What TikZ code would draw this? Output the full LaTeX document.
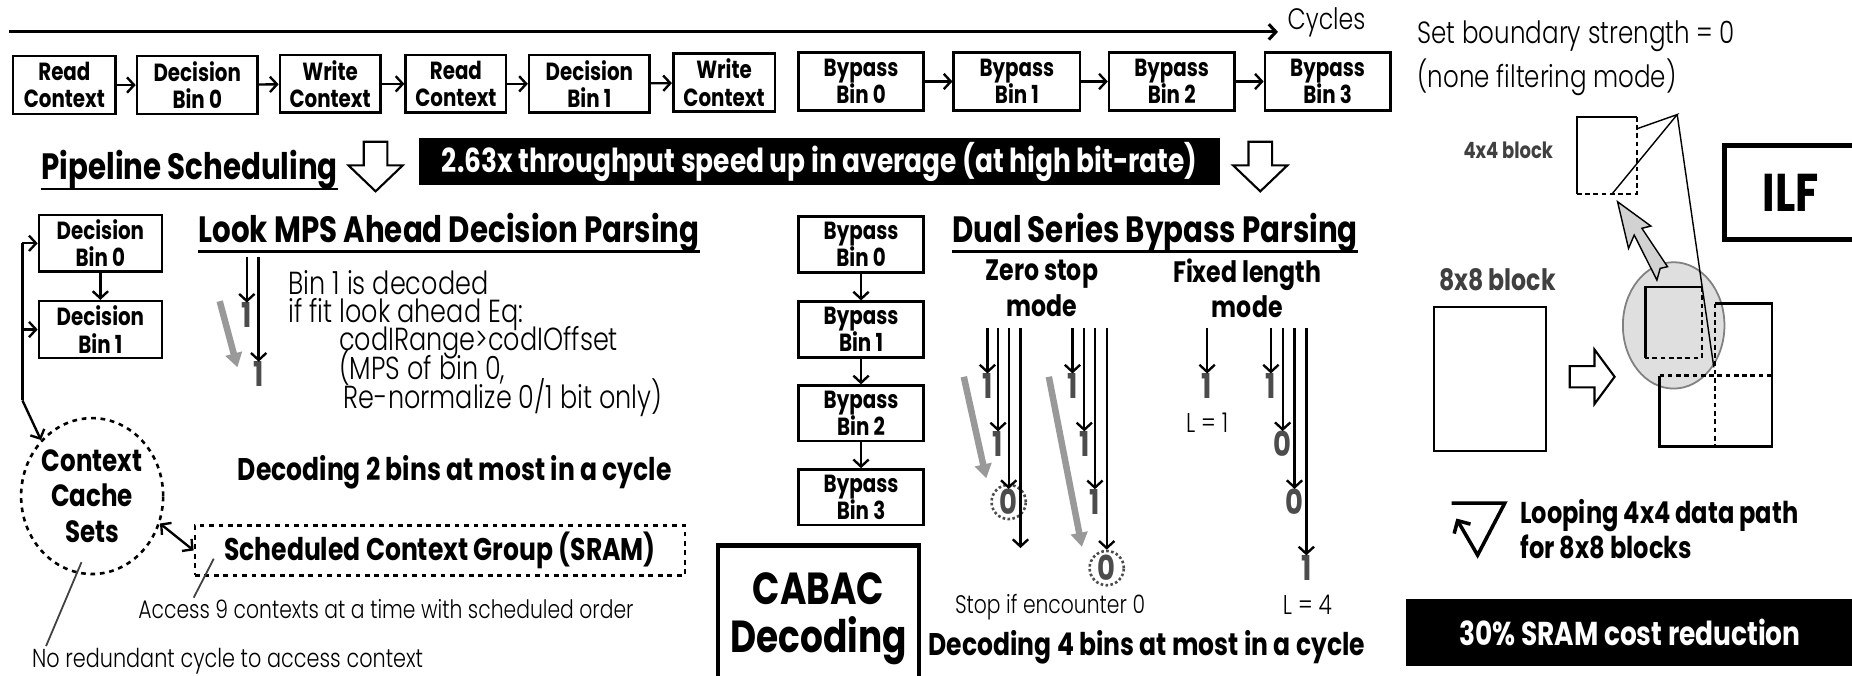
\documentclass[tikz,border=0pt]{standalone}
\usepackage{fontspec}
\setmainfont{Poppins}[FakeStretch=0.8]
\newfontfamily\thinfont{Poppins Light}[FakeStretch=0.8]
\usetikzlibrary{arrows.meta,positioning,calc,shapes.geometric}

\definecolor{digitgray}{gray}{0.30}
\definecolor{labelgray}{gray}{0.25}

\tikzset{
  stage/.style={draw, line width=2.2pt, align=center, inner sep=0pt,
    minimum height=49pt, font=\bfseries\fontsize{21}{23}\selectfont},
  flow/.style={line width=2pt, -{Straight Barb[length=6pt,width=13pt]}},
  heading/.style={inner sep=0pt, font=\bfseries\fontsize{31}{32}\selectfont},
  underbar/.style={line width=2.4pt},
  plain/.style={inner sep=0pt, font=\thinfont\fontsize{24}{24}\selectfont},
  strong/.style={inner sep=0pt, align=center, font=\bfseries\fontsize{26.5}{30}\selectfont},
  digit/.style={inner sep=0pt, text=digitgray, font=\bfseries\fontsize{29}{29}\selectfont},
  ring/.style={circle, draw=digitgray, dotted, line width=2.2pt, minimum size=29pt},
  greyarrow/.style={gray!80, line width=5.5pt, -{Triangle[length=12pt,width=14pt]}},
  leader/.style={labelgray, line width=1.5pt},
  banner/.style={fill=black, text=white, inner sep=0pt, font=\bfseries\fontsize{28}{30}\selectfont},
  hollow/.style={draw, line width=1.8pt, fill=white},
}

\begin{document}
\begin{tikzpicture}[x=1pt,y=-1pt]

  % Picture frame
  \useasboundingbox (0,0) rectangle (1568,572);

  % Cycle axis
  \coordinate (tstart) at (8,27);
  \coordinate (tend) at (1082,27);
  \draw[flow, line width=2.6pt] (tstart) -- (tend);
  \node[plain, anchor=west, font=\thinfont\fontsize{25}{25}\selectfont] (cycles) at (1090,19) {Cycles};

  % Original schedule, one stage per cycle
  \node[stage, minimum width=87pt]  (rc1) at (54.5,72) {Read\\Context};
  \node[stage, minimum width=102pt] (db0) at (167,72) {Decision\\Bin 0};
  \node[stage, minimum width=85pt]  (wc1) at (279.5,71) {Write\\Context};
  \node[stage, minimum width=85pt]  (rc2) at (386,71) {Read\\Context};
  \node[stage, minimum width=102pt] (db1) at (499,71) {Decision\\Bin 1};
  \node[stage, minimum width=86pt]  (wc2) at (613,70) {Write\\Context};
  \node[stage, minimum width=106pt] (bb0) at (729,69) {Bypass\\Bin 0};
  \node[stage, minimum width=107pt] (bb1) at (861,69) {Bypass\\Bin 1};
  \node[stage, minimum width=106pt] (bb2) at (992,69) {Bypass\\Bin 2};
  \node[stage, minimum width=106pt] (bb3) at (1124,69) {Bypass\\Bin 3};
  \draw[flow] (rc1) -- (db0);
  \draw[flow] (db0) -- (wc1);
  \draw[flow] (wc1) -- (rc2);
  \draw[flow] (rc2) -- (db1);
  \draw[flow] (db1) -- (wc2);
  \draw[flow] (bb0) -- (bb1);
  \draw[flow] (bb1) -- (bb2);
  \draw[flow] (bb2) -- (bb3);

  % Pipeline scheduling row
  \node[heading, anchor=base west] (pipe) at (35,152) {Pipeline Scheduling};
  \draw[underbar] ([yshift=-8pt]pipe.base west) -- ([yshift=-8pt]pipe.base east);
  \draw[hollow] (308,120) -- (328,120) -- (328,140) -- (341,140) -- (318,162)
    -- (295,140) -- (308,140) -- cycle;
  \node[banner, minimum width=678pt, minimum height=40pt] (speed) at (694,137)
    {2.63x throughput speed up in average (at high bit-rate)};
  \draw[hollow] (1057,120) -- (1077,120) -- (1077,140) -- (1090,140) -- (1067,162)
    -- (1044,140) -- (1057,140) -- cycle;

  % Look MPS ahead decision parsing
  \node[stage, minimum width=104pt, minimum height=48pt] (dec0) at (85,206) {Decision\\Bin 0};
  \node[stage, minimum width=104pt, minimum height=48pt] (dec1) at (85,279) {Decision\\Bin 1};
  \draw[flow] (dec0) -- (dec1);
  \node[draw, ellipse, dash pattern=on 4pt off 4pt, line width=2.2pt, minimum width=114pt,
    minimum height=132pt, strong, font=\bfseries\fontsize{26}{30}\selectfont]
    (cache) at (78,420) {Context\\Cache\\Sets};
  \coordinate (bustop) at (19,206);
  \coordinate (busbot) at (19,339);
  \draw[flow] (bustop) -- (dec0.west);
  \draw[flow] (bustop |- dec1.west) -- (dec1.west);
  \draw[line width=2pt] (bustop) -- (busbot);
  \draw[flow] (busbot) -- (cache.north west);
  \node[draw, dash pattern=on 4pt off 4pt, line width=2.2pt, minimum width=415pt,
    minimum height=42pt, strong, font=\bfseries\fontsize{26.5}{28}\selectfont]
    (sram) at (372.5,466) {Scheduled Context Group (SRAM)};
  \draw[line width=2pt, {Straight Barb[length=6pt,width=13pt]}-{Straight Barb[length=6pt,width=13pt]}]
    (cache.-22) -- (sram.west);
  \node[plain, anchor=base west, font=\thinfont\fontsize{21.5}{22}\selectfont] (access) at (117,524)
    {Access 9 contexts at a time with scheduled order};
  \coordinate (sramtip) at (181,473);
  \draw[leader] (sramtip) -- (164,506);
  \node[plain, anchor=base west, font=\thinfont\fontsize{22}{22}\selectfont] (noredund) at (27,565)
    {No redundant cycle to access context};
  \coordinate (cachetip) at (69,476);
  \draw[leader] (cachetip) -- (39,547);

  \node[heading, anchor=base west] (mps) at (168,205) {Look MPS Ahead Decision Parsing};
  \draw[underbar] ([yshift=-8pt]mps.base west) -- ([yshift=-8pt]mps.base east);
  \node[digit] (mone) at (209,267) {1};
  \node[digit] (mtwo) at (219,317) {1};
  \coordinate (mtop) at (214,218);
  \draw[flow] (mtop -| mone) -- (mone.north);
  \draw[flow] (mtop -| mtwo) -- (mtwo.north);
  \coordinate (mgreya) at (186,255);
  \coordinate (mgreyb) at (201,311);
  \draw[greyarrow] (mgreya) -- (mgreyb);
  \node[plain, anchor=base west, font=\thinfont\fontsize{27}{24}\selectfont] (lk1) at (244,249) {Bin 1 is decoded};
  \node[plain, anchor=base west, font=\thinfont\fontsize{27}{24}\selectfont] (lk2) at (244,273) {if fit look ahead Eq:};
  \node[plain, anchor=base west, font=\thinfont\fontsize{27}{24}\selectfont] (lk3) at (287,297) {codIRange>codIOffset};
  \node[plain, anchor=base west, font=\thinfont\fontsize{27}{24}\selectfont] (lk4) at (287,321) {(MPS of bin 0,};
  \node[plain, anchor=base west, font=\thinfont\fontsize{27}{24}\selectfont] (lk5) at (291,346) {Re-normalize 0/1 bit only)};
  \node[strong] (two) at (385,400) {Decoding 2 bins at most in a cycle};

  % Dual series bypass parsing
  \node[stage, minimum width=106pt, minimum height=47pt] (byp0) at (729,207) {Bypass\\Bin 0};
  \node[stage, minimum width=106pt, minimum height=47pt] (byp1) at (729,279) {Bypass\\Bin 1};
  \node[stage, minimum width=106pt, minimum height=47pt] (byp2) at (729,350) {Bypass\\Bin 2};
  \node[stage, minimum width=106pt, minimum height=47pt] (byp3) at (729,421) {Bypass\\Bin 3};
  \draw[flow] (byp0) -- (byp1);
  \draw[flow] (byp1) -- (byp2);
  \draw[flow] (byp2) -- (byp3);
  \node[draw, line width=4pt, minimum width=170pt, minimum height=124pt, align=center,
    font=\bfseries\fontsize{38}{41}\selectfont] (cabac) at (693,524) {CABAC\\Decoding};

  \node[heading, anchor=base west] (dual) at (806,205) {Dual Series Bypass Parsing};
  \draw[underbar] ([yshift=-8pt]dual.base west) -- ([yshift=-8pt]dual.base east);
  \node[strong, font=\bfseries\fontsize{25}{30}\selectfont] (zero) at (882,244) {Zero stop\\mode};
  \node[strong, font=\bfseries\fontsize{25}{30}\selectfont] (fixed) at (1056,244) {Fixed length\\mode};

  % zero stop, first series
  \coordinate (ztop) at (836,278);
  \node[digit] (za1) at (836,327) {1};
  \node[digit] (za2) at (845,376) {1};
  \node[digit] (za3) at (854,425) {0};
  \node[ring] (zaring) at (za3) {};
  \coordinate (za4) at (864,464);
  \draw[flow] (ztop -| za1) -- (za1.north);
  \draw[flow] (ztop -| za2) -- (za2.north);
  \draw[flow] (ztop -| za3) -- (za3.north);
  \draw[flow] (ztop -| za4) -- (za4);
  \coordinate (zgreya) at (816,319);
  \coordinate (zgreyb) at (835,405);
  \draw[greyarrow] (zgreya) -- (zgreyb);

  % zero stop, second series
  \node[digit] (zb1) at (908,327) {1};
  \node[digit] (zb2) at (918,376) {1};
  \node[digit] (zb3) at (927,425) {1};
  \node[digit] (zb4) at (937,481) {0};
  \node[ring] (zbring) at (zb4) {};
  \draw[flow] (ztop -| zb1) -- (zb1.north);
  \draw[flow] (ztop -| zb2) -- (zb2.north);
  \draw[flow] (ztop -| zb3) -- (zb3.north);
  \draw[flow] (ztop -| zb4) -- (zbring.north);
  \coordinate (zgreyc) at (888,319);
  \coordinate (zgreyd) at (916,463);
  \draw[greyarrow] (zgreyc) -- (zgreyd);
  \node[plain, font=\thinfont\fontsize{21.5}{22}\selectfont] (stop) at (889,514) {Stop if encounter 0};

  % fixed length, L = 1 and L = 4
  \node[digit] (fa1) at (1022,327) {1};
  \draw[flow] (ztop -| fa1) -- (fa1.north);
  \node[plain, font=\thinfont\fontsize{23}{23}\selectfont] (lone) at (1022,358) {L = 1};
  \node[digit] (fb1) at (1076,327) {1};
  \node[digit] (fb2) at (1086,376) {0};
  \node[digit] (fb3) at (1096,425) {0};
  \node[digit] (fb4) at (1106,481) {1};
  \draw[flow] (ztop -| fb1) -- (fb1.north);
  \draw[flow] (ztop -| fb2) -- (fb2.north);
  \draw[flow] (ztop -| fb3) -- (fb3.north);
  \draw[flow] (ztop -| fb4) -- (fb4.north);
  \node[plain, font=\thinfont\fontsize{23}{23}\selectfont] (lfour) at (1107,512) {L = 4};
  \node[strong] (four) at (971,548) {Decoding 4 bins at most in a cycle};

  % Inloop filter part
  \node[plain, anchor=base west, font=\thinfont\fontsize{26}{26}\selectfont] (bs1) at (1200,37)
    {Set boundary strength = 0};
  \node[plain, anchor=base west, font=\thinfont\fontsize{26}{26}\selectfont] (bs2) at (1200,74)
    {(none filtering mode)};
  \node[inner sep=0pt, text=labelgray, font=\bfseries\fontsize{19}{20}\selectfont] (small) at (1277,127) {4x4 block};
  \draw[line width=2pt] (1335,164) -- (1335,99) -- (1386,99);
  \draw[line width=2pt, dash pattern=on 4pt off 3pt] (1386,99) -- (1386,164) -- (1335,164);
  \node[draw, line width=4pt, minimum width=112pt, minimum height=80pt,
    font=\bfseries\fontsize{45}{45}\selectfont] (ilf) at (1516,163) {ILF};

  \node[inner sep=0pt, text=labelgray, font=\bfseries\fontsize{25}{26}\selectfont] (big) at (1268,237) {8x8 block};
  \node[draw, line width=2pt, minimum width=95pt, minimum height=122pt] (eight) at (1261.5,321) {};
  \draw[hollow] (1329,310) -- (1350,310) -- (1350,296) -- (1367,319) -- (1350,342)
    -- (1350,328) -- (1329,328) -- cycle;

  % split 8x8 block, top left 4x4 lifted out
  \node[ellipse, draw=gray, fill=gray!25, line width=1.5pt, minimum width=86pt,
    minimum height=107pt] (zoomed) at (1417,275.5) {};
  \draw[line width=2pt] (1405,318) -- (1405,378) -- (1500,378) -- (1500,257) -- (1452,257);
  \draw[line width=2pt, dash pattern=on 4pt off 3pt] (1452,257) -- (1452,378);
  \draw[line width=2pt, dash pattern=on 4pt off 3pt] (1405,318) -- (1500,318);
  \draw[line width=2pt] (1393,303) -- (1393,243) -- (1441,243);
  \draw[line width=2pt, dash pattern=on 4pt off 3pt] (1441,243) -- (1441,303) -- (1393,303);

  % boundary fan
  \coordinate (apex) at (1420,97);
  \draw[line width=1.2pt] (1386,109) -- (apex) -- (1365,164);
  \draw[line width=1.2pt] (apex) -- (1451,311);

  % lift arrow
  \draw[line width=1.2pt, fill=gray!35, line join=miter] (1369.5,170.8) -- (1397.7,191.4) -- (1390.1,193.3)
    -- (1411.8,225.8) -- (1405.6,227.2) -- (1402.8,237.1) -- (1383.6,199) -- (1378.8,210.3) -- cycle;

  % looping data path
  \coordinate (la) at (1229,426);
  \coordinate (lb) at (1274,426);
  \coordinate (lc) at (1251,470);
  \coordinate (ld) at (1233,439);
  \draw[line width=3pt, line join=miter, -{Straight Barb[length=8pt,width=16pt]}] (la) -- (lb) -- (lc) -- (ld);
  \node[strong, anchor=west, align=left, font=\bfseries\fontsize{25.5}{30}\selectfont] (loop) at (1287,448)
    {Looping 4x4 data path\\for 8x8 blocks};
  \node[banner, minimum width=380pt, minimum height=57pt] (sramcut) at (1380,535.5) {30\% SRAM cost reduction};

\end{tikzpicture}
\end{document}
